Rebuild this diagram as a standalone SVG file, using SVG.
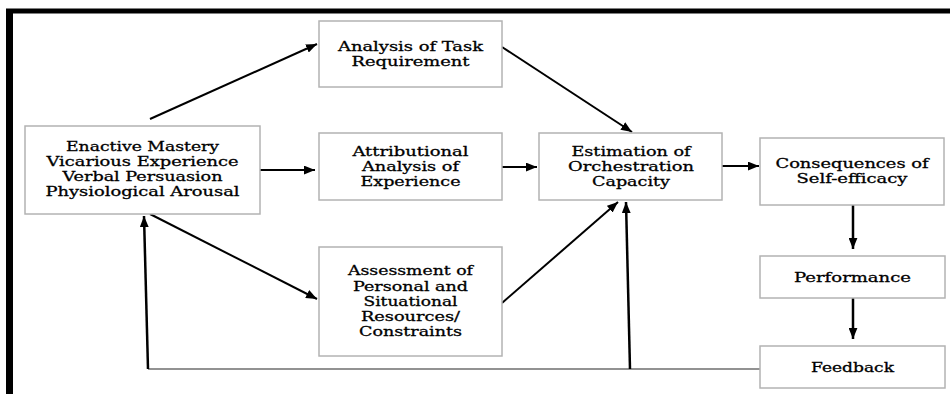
<svg xmlns="http://www.w3.org/2000/svg" width="950" height="394" viewBox="0 0 950 394">
  <style>
    .box { fill: #ffffff; stroke: #b3b3b3; stroke-width: 1.5; }
    .lbl { font-family: "DejaVu Serif", "Liberation Serif", serif; font-size: 13px; fill: #000; stroke: #000; stroke-width: 0.3; text-anchor: middle; }
    .edge { stroke: #000; stroke-width: 2; fill: none; }
    .loop { stroke: #000; stroke-width: 2.5; fill: none; }
    .ret { stroke: #6e6e6e; stroke-width: 1.5; fill: none; }
  </style>
  <defs>
    <marker id="arrow" viewBox="0 0 10 8" refX="10" refY="4" markerWidth="11" markerHeight="9" markerUnits="userSpaceOnUse" orient="auto">
      <path d="M0,0 L10,4 L0,8 z" fill="#000"/>
    </marker>
  </defs>

  <rect width="950" height="394" fill="#ffffff"/>

  <!-- frame -->
  <line x1="6" y1="11" x2="950" y2="11" stroke="#000" stroke-width="5"/>
  <line x1="9.5" y1="9" x2="9.5" y2="394" stroke="#000" stroke-width="7"/>

  <g id="connectors">
    <line class="edge" x1="150" y1="119" x2="317" y2="44" marker-end="url(#arrow)"/>
    <line class="edge" x1="260" y1="170" x2="315" y2="170" marker-end="url(#arrow)"/>
    <line class="edge" x1="150" y1="214" x2="317" y2="299" marker-end="url(#arrow)"/>
    <line class="edge" x1="502" y1="167" x2="537" y2="167" marker-end="url(#arrow)"/>
    <line class="edge" x1="502" y1="47" x2="632" y2="132" marker-end="url(#arrow)"/>
    <line class="edge" x1="502" y1="303" x2="618" y2="202" marker-end="url(#arrow)"/>
    <line class="edge" x1="722" y1="166" x2="759" y2="166" marker-end="url(#arrow)"/>
    <line class="loop" x1="853" y1="205" x2="853" y2="249" marker-end="url(#arrow)"/>
    <line class="loop" x1="853" y1="298" x2="853" y2="339" marker-end="url(#arrow)"/>
    <!-- feedback return -->
    <polyline class="ret" points="760,369 148,369"/>
    <line class="loop" x1="148" y1="369" x2="144" y2="216" marker-end="url(#arrow)"/>
    <line class="loop" x1="630" y1="369" x2="626" y2="202" marker-end="url(#arrow)"/>
  </g>

  <g id="sources">
    <rect class="box" x="25" y="126" width="235" height="88"/>
    <text class="lbl" x="142.5" y="151" textLength="153" lengthAdjust="spacingAndGlyphs">Enactive Mastery</text>
    <text class="lbl" x="142.5" y="166" textLength="192" lengthAdjust="spacingAndGlyphs">Vicarious Experience</text>
    <text class="lbl" x="142.5" y="181" textLength="160" lengthAdjust="spacingAndGlyphs">Verbal Persuasion</text>
    <text class="lbl" x="142.5" y="196" textLength="194" lengthAdjust="spacingAndGlyphs">Physiological Arousal</text>
  </g>

  <g id="task">
    <rect class="box" x="319" y="21" width="183" height="66"/>
    <text class="lbl" x="410.5" y="51" textLength="145" lengthAdjust="spacingAndGlyphs">Analysis of Task</text>
    <text class="lbl" x="410.5" y="66" textLength="118" lengthAdjust="spacingAndGlyphs">Requirement</text>
  </g>

  <g id="attribution">
    <rect class="box" x="319" y="133" width="183" height="67"/>
    <text class="lbl" x="410.5" y="156" textLength="116" lengthAdjust="spacingAndGlyphs">Attributional</text>
    <text class="lbl" x="410.5" y="171" textLength="97" lengthAdjust="spacingAndGlyphs">Analysis of</text>
    <text class="lbl" x="410.5" y="186" textLength="100" lengthAdjust="spacingAndGlyphs">Experience</text>
  </g>

  <g id="assessment">
    <rect class="box" x="319" y="247" width="183" height="109"/>
    <text class="lbl" x="410.5" y="275" textLength="125" lengthAdjust="spacingAndGlyphs">Assessment of</text>
    <text class="lbl" x="410.5" y="290.5" textLength="115" lengthAdjust="spacingAndGlyphs">Personal and</text>
    <text class="lbl" x="410.5" y="305.5" textLength="94" lengthAdjust="spacingAndGlyphs">Situational</text>
    <text class="lbl" x="410.5" y="320.5" textLength="99" lengthAdjust="spacingAndGlyphs">Resources/</text>
    <text class="lbl" x="410.5" y="336" textLength="103" lengthAdjust="spacingAndGlyphs">Constraints</text>
  </g>

  <g id="estimation">
    <rect class="box" x="539" y="133" width="183" height="67"/>
    <text class="lbl" x="631" y="156" textLength="119" lengthAdjust="spacingAndGlyphs">Estimation of</text>
    <text class="lbl" x="631" y="171" textLength="126" lengthAdjust="spacingAndGlyphs">Orchestration</text>
    <text class="lbl" x="631" y="186" textLength="78" lengthAdjust="spacingAndGlyphs">Capacity</text>
  </g>

  <g id="consequences">
    <rect class="box" x="760" y="138" width="184" height="67"/>
    <text class="lbl" x="852" y="168" textLength="153" lengthAdjust="spacingAndGlyphs">Consequences of</text>
    <text class="lbl" x="852" y="183" textLength="111" lengthAdjust="spacingAndGlyphs">Self-efficacy</text>
  </g>

  <g id="performance">
    <rect class="box" x="760" y="256" width="185" height="42"/>
    <text class="lbl" x="852.5" y="282" textLength="117" lengthAdjust="spacingAndGlyphs">Performance</text>
  </g>

  <g id="feedback">
    <rect class="box" x="760" y="346" width="185" height="42"/>
    <text class="lbl" x="852.5" y="372" textLength="83" lengthAdjust="spacingAndGlyphs">Feedback</text>
  </g>
</svg>
